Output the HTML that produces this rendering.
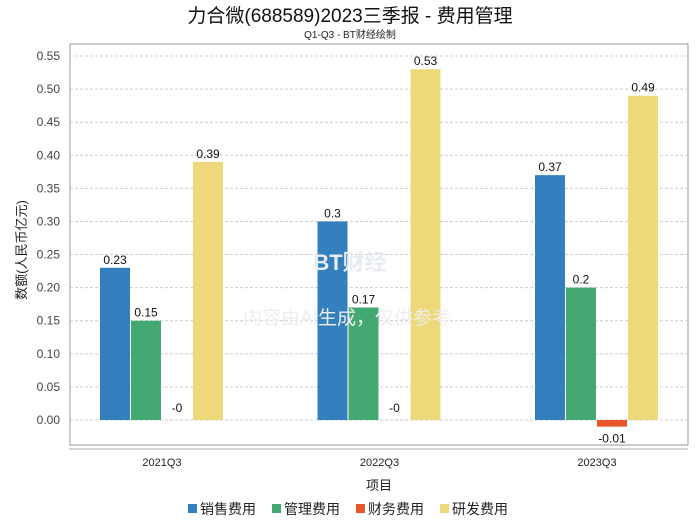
<!DOCTYPE html>
<html><head><meta charset="utf-8">
<style>
body{margin:0;background:#fff;font-family:"Liberation Sans","Noto Sans CJK SC",sans-serif;}
svg text{font-family:"Liberation Sans","Noto Sans CJK SC",sans-serif;}
</style></head>
<body>
<svg id="c" width="700" height="524">
<text x="350" y="22" text-anchor="middle" font-size="19" fill="#111">力合微(688589)2023三季报 - 费用管理</text>
<text x="350" y="38" text-anchor="middle" font-size="10" fill="#222">Q1-Q3 - BT财经绘制</text>
<rect x="70" y="44" width="618" height="401" fill="#fff" stroke="#999"/>
<line x1="69" y1="449" x2="688" y2="449" stroke="#aaa"/>
<g id="grid"></g><g id="bars"></g>
<text x="350" y="270" text-anchor="middle" font-size="22" font-weight="bold" fill="#e8ecf2">BT财经</text>
<text x="347" y="324" text-anchor="middle" font-size="19" fill="#eeeeee">内容由AI生成，仅供参考</text>
<text x="26" y="250" text-anchor="middle" font-size="13" fill="#222" transform="rotate(-90 26 250)">数额(人民币亿元)</text>
<text x="379" y="490" text-anchor="middle" font-size="13" fill="#222">项目</text>
<g id="legend"></g>
</svg>
<script>
const categories=["2021Q3","2022Q3","2023Q3"];
const seriesNames=["销售费用","管理费用","财务费用","研发费用"];
const sales=[0.23,0.3,0.37];
const admin=[0.15,0.17,0.2];
const finance=[-0.0001,-0.0001,-0.01];
const rnd=[0.39,0.53,0.49];
const labelsFinance=["-0","-0","-0.01"];
const yTicks=[0,0.05,0.1,0.15,0.2,0.25,0.3,0.35,0.4,0.45,0.5,0.55];
const colors=["#3480be","#44a872","#e8562a","#edd97a"];
const NS="http://www.w3.org/2000/svg";
const y=v=>420-v*661.8;
const cx=i=>162+i*217.5;
function mk(t,a,p){const e=document.createElementNS(NS,t);for(const k in a)e.setAttribute(k,a[k]);p.appendChild(e);return e;}
const grid=document.getElementById('grid');
yTicks.forEach(t=>{
 const l=mk('line',{x1:70,x2:688,y1:y(t),y2:y(t),stroke:'#ccc','stroke-dasharray':'3,2'},grid);
 
 
 const tx=mk('text',{x:60,y:y(t)+4,'text-anchor':'end','font-size':12,fill:'#444'},grid);
 tx.textContent=t.toFixed(2);
 
 
});
const bars=document.getElementById('bars');
const series=[sales,admin,finance,rnd];
categories.forEach((c,i)=>{
 const ct=mk('text',{x:cx(i),y:466,'text-anchor':'middle','font-size':11,fill:'#222'},bars);
 ct.textContent=c;
 
 
 series.forEach((s,j)=>{
  const v=s[i];const x0=cx(i)-62+j*31;
  const top=Math.min(y(v),y(0)),h=Math.abs(y(v)-y(0));
  const r=mk('rect',{x:x0,y:top,width:30,height:h,fill:colors[j]},bars);
  
  
  const lab=j==2?labelsFinance[i]:String(v);
  const small=Math.abs(v)<0.005;
  const ly=(v>=0||small)?top-4-(small?4:0):y(v)+16;
  const t=mk('text',{x:x0+15,y:ly,'text-anchor':'middle','font-size':12,fill:'#111'},bars);
  t.textContent=lab;
  
  
 });
});
const lg=document.getElementById('legend');
const lx=[188,272,356,440];
seriesNames.forEach((n,j)=>{
 const r=mk('rect',{x:lx[j],y:504,width:9,height:9,fill:colors[j]},lg);
 
 
 const t=mk('text',{x:lx[j]+12,y:514,'font-size':14,fill:'#222'},lg);
 t.textContent=n;
 
 
});
</script>
</body></html>
